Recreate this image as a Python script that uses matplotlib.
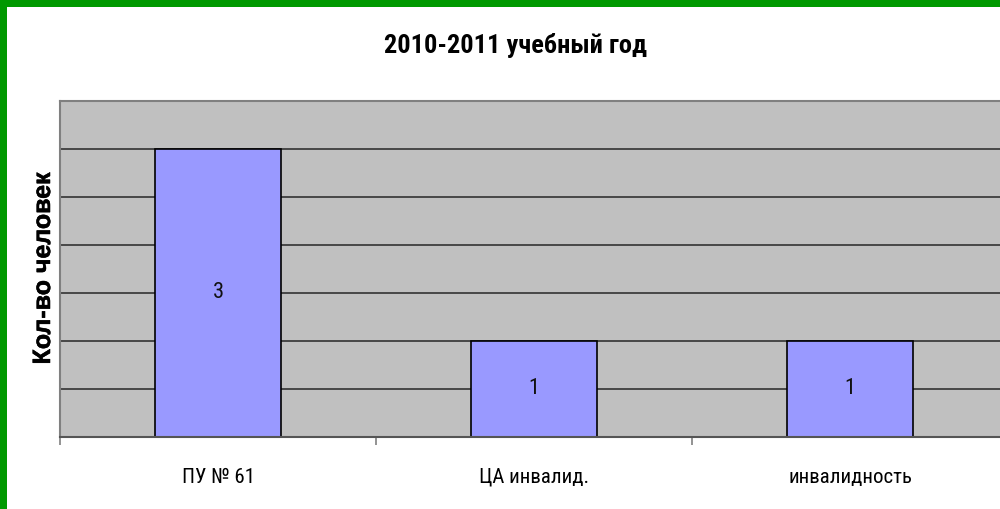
import matplotlib
matplotlib.use('Agg')
import matplotlib.pyplot as plt
from matplotlib import font_manager
from matplotlib import patheffects
from matplotlib.patches import Rectangle

categories = ['ПУ № 61', 'ЦА инвалид.', 'инвалидность']
values = [3, 1, 1]
title = '2010-2011 учебный год'
ylabel = 'Кол-во человек'

# pick a narrow font if one is installed
names = set(f.name for f in font_manager.fontManager.ttflist)
narrow = 'Roboto'
for cand in ['Roboto Condensed', 'Liberation Sans Narrow', 'Open Sans Condensed', 'DejaVu Sans Condensed']:
    if cand in names:
        narrow = cand
        break

W, H = 1000, 509
fig = plt.figure(figsize=(W / 100, H / 100), dpi=100)
fig.patch.set_facecolor('white')

# axes box in pixels: left 60, right 1008, top 101, bottom 437
ax = fig.add_axes([60 / W, 1 - 437 / H, 948 / W, 336 / H])
ax.set_facecolor('#c0c0c0')
ax.set_xlim(-0.5, 2.5)
ax.set_ylim(0, 3.5)

for y in [0.5, 1.0, 1.5, 2.0, 2.5, 3.0]:
    ax.axhline(y, color='#333333', lw=1.2, zorder=1)

x = range(len(categories))
ax.bar(x, values, width=0.4, color='#9999ff', edgecolor='black', lw=1.2, zorder=2)

for i, v in enumerate(values):
    ax.text(i, v / 2, str(v), ha='center', va='center', fontsize=16,
            family=narrow, color='#111111', zorder=3)

for s in ['top', 'left', 'right']:
    ax.spines[s].set_color('#808080')
    ax.spines[s].set_linewidth(1.5)
ax.spines['bottom'].set_color('#555555')
ax.spines['bottom'].set_linewidth(1.5)

ax.set_yticks([])
ax.set_xticks(list(x))
ax.set_xticklabels(categories, fontsize=15, family=narrow)
ax.tick_params(axis='x', which='major', length=0, pad=22)
ax.set_xticks([-0.5, 0.5, 1.5, 2.5], minor=True)
ax.tick_params(axis='x', which='minor', length=6, width=1.2, color='#808080')

fig.text(43 / W, 1 - 268 / H, ylabel, rotation=90, ha='center', va='center',
         fontsize=18, fontweight='bold', family='Liberation Sans',
         path_effects=[patheffects.withStroke(linewidth=0.4, foreground='black')])
fig.text(515 / W, 1 - 46 / H, title, ha='center', va='center',
         fontsize=19, fontweight='bold', family=narrow)

# green frame along the top and left edges
fig.patches.append(Rectangle((0, 1 - 7 / H), 1, 7 / H, transform=fig.transFigure,
                             facecolor='#009900', edgecolor='none', zorder=10))
fig.patches.append(Rectangle((0, 0), 7 / W, 1, transform=fig.transFigure,
                             facecolor='#009900', edgecolor='none', zorder=10))

fig.savefig('out.png', dpi=100)
